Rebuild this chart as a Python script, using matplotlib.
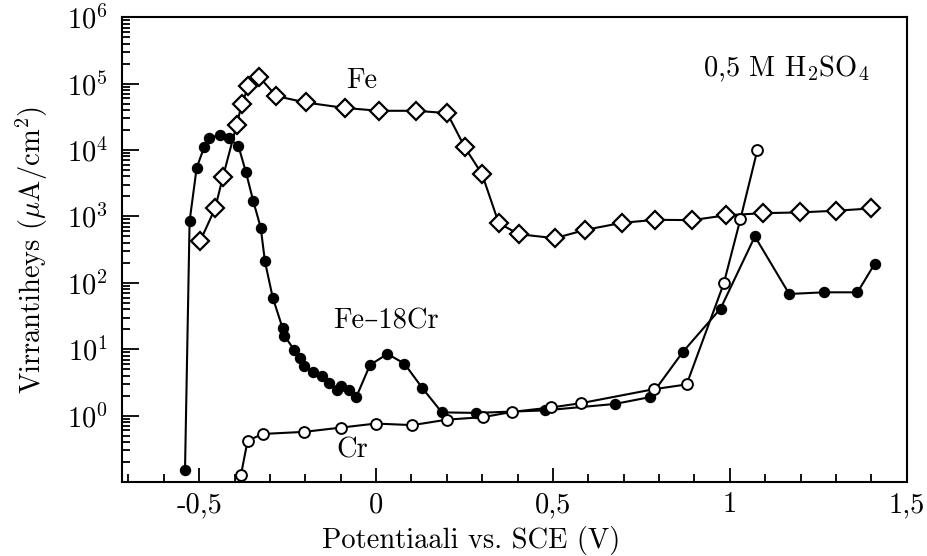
import matplotlib
matplotlib.use("Agg")
import matplotlib.pyplot as plt
from matplotlib.ticker import FixedLocator, LogLocator, NullFormatter

plt.rcParams['font.family'] = ['cmr10', 'DejaVu Serif']
plt.rcParams['mathtext.fontset'] = 'cm'
plt.rcParams['axes.unicode_minus'] = False
plt.rcParams['axes.formatter.use_mathtext'] = True

# Fe (avoimet vinoneliöt)
fe_x = [-0.497, -0.455, -0.433, -0.394, -0.379, -0.361, -0.330, -0.282, -0.199,
        -0.088, 0.009, 0.113, 0.201, 0.251, 0.300, 0.347, 0.404, 0.506, 0.590,
        0.694, 0.790, 0.894, 0.989, 1.094, 1.198, 1.301, 1.400]
fe_y = [427, 1320, 3900, 24000, 50000, 91000, 126000, 65000, 52000,
        43000, 39000, 39000, 36000, 11000, 4300, 790, 540, 470, 625,
        800, 890, 880, 1040, 1120, 1150, 1220, 1320]

# Fe-18Cr (täytetyt ympyrät)
fecr_x = [-0.540, -0.527, -0.507, -0.486, -0.472, -0.441, -0.417, -0.389, -0.368,
          -0.347, -0.326, -0.314, -0.292, -0.264, -0.259, -0.231, -0.215, -0.203,
          -0.177, -0.153, -0.132, -0.111, -0.099, -0.076, -0.056, -0.017, 0.032,
          0.080, 0.131, 0.186, 0.282, 0.477, 0.675, 0.774, 0.868, 0.974, 1.071,
          1.168, 1.266, 1.361, 1.410]
fecr_y = [0.15, 850, 5400, 11000, 15000, 17000, 15000, 11500, 4700,
          1700, 680, 210, 60, 20.7, 16, 9.7, 7.3, 5.6,
          4.6, 4.0, 3.1, 2.4, 2.8, 2.4, 1.9, 5.8, 8.5,
          6.1, 2.6, 1.12, 1.1, 1.2, 1.5, 1.9, 9.2, 41, 500,
          68, 72, 72, 195]

# Cr (avoimet ympyrät)
cr_x = [-0.382, -0.363, -0.320, -0.203, -0.100, -0.001, 0.103, 0.200, 0.303,
        0.385, 0.496, 0.579, 0.785, 0.878, 0.983, 1.030, 1.078]
cr_y = [0.127, 0.42, 0.53, 0.57, 0.66, 0.76, 0.72, 0.87, 0.95,
        1.14, 1.33, 1.54, 2.5, 2.95, 98, 910, 10000]

x_ticks = [-0.5, 0, 0.5, 1, 1.5]
x_labels = ['-0,5', '0', '0,5', '1', '1,5']
y_ticks = [1, 10, 100, 1e3, 1e4, 1e5, 1e6]
y_labels = [r'$10^{%d}$' % i for i in range(0, 7)]

fs = 20.5

fig = plt.figure(figsize=(9.28, 5.56), dpi=100)
ax = fig.add_axes([0.1315, 0.133, 0.8455, 0.836])

ax.plot(fe_x, fe_y, color='black', lw=1.5, marker='D', ms=9,
        mfc='white', mec='black', mew=1.6, zorder=3)
ax.plot(fecr_x, fecr_y, color='black', lw=1.5, marker='o', ms=7.2,
        mfc='black', mec='black', zorder=4)
ax.plot(cr_x, cr_y, color='black', lw=1.5, marker='o', ms=7.8,
        mfc='white', mec='black', mew=1.4, zorder=5)

ax.set_yscale('log')
ax.set_xlim(-0.718, 1.5)
ax.set_ylim(0.1, 1e6)

ax.xaxis.set_major_locator(FixedLocator(x_ticks))
ax.set_xticklabels(x_labels)
ax.xaxis.set_minor_locator(FixedLocator([-0.7, -0.6, -0.4, -0.3, -0.2, -0.1, 0.1, 0.2, 0.3, 0.4,
                                         0.6, 0.7, 0.8, 0.9, 1.1, 1.2, 1.3, 1.4]))
ax.yaxis.set_major_locator(FixedLocator([0.1] + y_ticks))
ax.set_yticklabels([''] + y_labels)
ax.yaxis.set_minor_locator(LogLocator(base=10, subs=range(2, 10), numticks=20))
ax.yaxis.set_minor_formatter(NullFormatter())

ax.tick_params(axis='both', which='both', direction='in', width=1.3,
               top=False, right=False, labelsize=fs)
ax.tick_params(axis='x', which='major', length=10, pad=7)
ax.tick_params(axis='x', which='minor', length=6)
ax.tick_params(axis='y', which='major', length=12, pad=10)
ax.tick_params(axis='y', which='minor', length=6)
for s in ax.spines.values():
    s.set_linewidth(1.5)

ax.set_xlabel('Potentiaali vs. SCE (V)', fontsize=fs, labelpad=6)
ax.xaxis.label.set_x(0.445)
ax.set_ylabel(r'Virrantiheys ($\mu$A/cm$^2$)', fontsize=fs, labelpad=12)

ax.text(-0.04, 1.1e5, 'Fe', fontsize=fs, ha='center', va='center')
ax.text(0.028, 26, 'Fe–18Cr', fontsize=fs, ha='center', va='center')
ax.text(-0.068, 0.30, 'Cr', fontsize=fs, ha='center', va='center')
ax.text(0.952, 0.89, r'0,5 M H$_2$SO$_4$', fontsize=fs, ha='right', va='center',
        transform=ax.transAxes)

fig.savefig('out.png', dpi=100)
